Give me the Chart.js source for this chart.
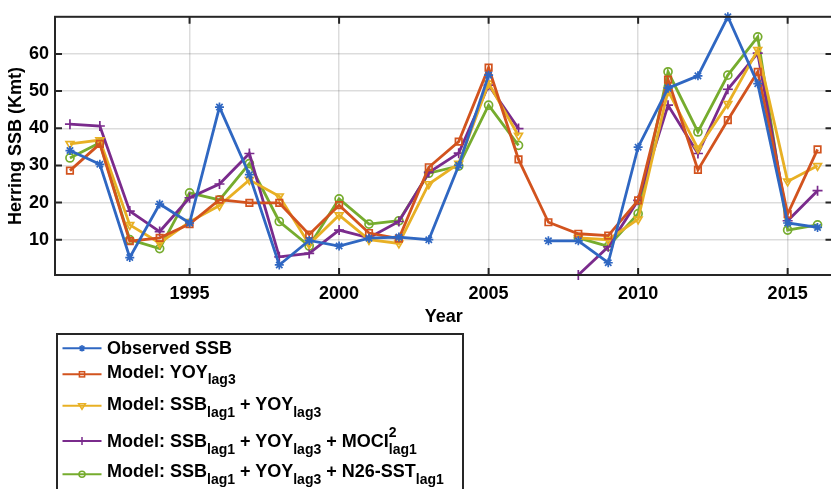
<!DOCTYPE html>
<html>
<head>
<meta charset="utf-8">
<title>Herring SSB</title>
<script src="https://cdn.jsdelivr.net/npm/chart.js@4.4.0/dist/chart.umd.min.js"></script>
<style>
    html, body { margin: 0; padding: 0; background: #fff; overflow: hidden; width: 831px; height: 489px; }
    body { position: relative; font-family: "Liberation Sans", Arial, Helvetica, sans-serif; font-weight: bold; color: #000; }
    #chartWrap { position: absolute; left: 0; top: 0; width: 840px; height: 330px; }
    #legendBox { position: absolute; left: 56px; top: 333px; width: 408px; height: 200px; border: 2px solid #262626; box-sizing: border-box; }
    .entry { position: absolute; left: 107px; font-size: 18px; line-height: 20px; white-space: nowrap; }
    .sub { font-size: 14px; position: relative; top: 7px; }
    .sup { font-size: 14px; position: relative; top: -10px; }
    #samples { position: absolute; left: 0; top: 0; }
</style>
</head>
<body>
<div id="chartWrap"><canvas id="herringChart" width="840" height="330"></canvas></div>
<div id="legendBox"></div>
<svg id="samples" width="120" height="489"></svg>
<div id="legendText"></div>

<script>
// ============================================
// DATOS
// ============================================

const years = [1991, 1992, 1993, 1994, 1995, 1996, 1997, 1998, 1999, 2000, 2001, 2002, 2003,
               2004, 2005, 2006, 2007, 2008, 2009, 2010, 2011, 2012, 2013, 2014, 2015, 2016];

const observedSSB = [34.0, 30.3, 5.2, 19.6, 14.5, 45.7, 27.5, 3.2, 9.8, 8.3, 10.4, 10.7, 10.0,
                     30.0, 54.3, null, 9.7, 9.7, 3.8, 34.9, 50.8, 54.1, 70.0, 52.0, 14.5, 13.3];

const modelYOY = [28.6, 35.8, 9.6, 10.5, 14.2, 20.8, 19.9, 19.9, 11.4, 19.3, 11.8, 10.3, 29.5,
                  36.4, 56.3, 31.6, 14.7, 11.6, 11.1, 20.6, 53.1, 28.8, 42.2, 55.2, 16.9, 34.3];

const modelSSBYOY = [35.8, 36.8, 14.0, 9.1, 14.8, 19.2, 26.1, 21.7, 8.8, 16.6, 10.0, 9.0, 25.0,
                     30.5, 52.1, 38.0, null, 10.5, 10.0, 15.5, 50.1, 34.5, 46.6, 61.1, 25.7, 29.9];

const modelMOCI = [41.1, 40.6, 17.7, 12.2, 21.3, 25.0, 33.2, 5.4, 6.3, 12.6, 10.5, 14.9, 28.1,
                   33.3, 51.6, 39.9, null, 0.5, 8.1, 20.6, 46.2, 33.2, 50.5, 60.2, 15.1, 23.2];

const modelN26SST = [32.0, 36.1, 10.0, 7.6, 22.6, 20.7, 30.5, 14.9, 8.3, 21.0, 14.2, 15.1, 27.9,
                     29.8, 46.2, 35.4, null, 10.5, 8.2, 17.0, 55.2, 39.0, 54.3, 64.6, 12.6, 14.0];

const xTicks = [1995, 2000, 2005, 2010, 2015];
const yTicks = [10, 20, 30, 40, 50, 60];

const seriesNames = [
    'Observed SSB',
    'Model: YOY<span class="sub" style="top:6px">lag3</span>',
    'Model: SSB<span class="sub">lag1</span> + YOY<span class="sub">lag3</span>',
    'Model: SSB<span class="sub">lag1</span> + YOY<span class="sub">lag3</span> + MOCI<span class="sup">2</span><span class="sub" style="margin-left:-7.8px">lag1</span>',
    'Model: SSB<span class="sub">lag1</span> + YOY<span class="sub">lag3</span> + N26-SST<span class="sub">lag1</span>'
];
const seriesValues = [observedSSB, modelYOY, modelSSBYOY, modelMOCI, modelN26SST];
const seriesColors = ['#2F67C2', '#D2531E', '#E8B024', '#7A2B8C', '#76AC2E'];
const seriesMarkers = ['star', 'rect', 'triangle', 'cross', 'circle'];

// ============================================
// ESTILO
// ============================================

const tickFont = { family: '"Liberation Sans", Arial, sans-serif', size: 18, weight: 'bold' };
const gridColor = 'rgba(38, 38, 38, 0.16)';
const markerRadius = { star: 4.5, rect: 4.6, triangle: 4.5, cross: 5, circle: 4 };

function toPoints(values) {
    return years.map((yr, i) => ({ x: yr, y: values[i] }));
}

// caja de ejes con marcas hacia dentro (estilo MATLAB)
const axisBox = {
    id: 'axisBox',
    afterDatasetsDraw(chart) {
        const { ctx, chartArea: a, scales: { x, y } } = chart;
        ctx.save();
        ctx.strokeStyle = '#262626';
        ctx.lineWidth = 2;
        ctx.beginPath();
        xTicks.forEach(v => {
            const px = x.getPixelForValue(v);
            ctx.moveTo(px, a.bottom); ctx.lineTo(px, a.bottom - 7);
            ctx.moveTo(px, a.top); ctx.lineTo(px, a.top + 7);
        });
        yTicks.forEach(v => {
            const py = y.getPixelForValue(v);
            ctx.moveTo(a.left, py); ctx.lineTo(a.left + 7, py);
            ctx.moveTo(a.right, py); ctx.lineTo(a.right - 7, py);
        });
        ctx.stroke();
        ctx.strokeRect(a.left, a.top, a.right - a.left, a.bottom - a.top);
        ctx.restore();
    }
};

new Chart(document.getElementById('herringChart'), {
    type: 'line',
    data: {
        datasets: seriesValues.map((vals, i) => ({
            label: 'series' + i,
            data: toPoints(vals),
            borderColor: seriesColors[i],
            borderWidth: 2.8,
            pointStyle: seriesMarkers[i],
            pointRotation: seriesMarkers[i] === 'triangle' ? 180 : 0,
            pointRadius: markerRadius[seriesMarkers[i]],
            pointBorderWidth: 1.7,
            pointBorderColor: seriesColors[i],
            pointBackgroundColor: 'rgba(0,0,0,0)',
            spanGaps: false,
            tension: 0,
            clip: false
        }))
    },
    options: {
        responsive: false,
        animation: false,
        layout: { padding: { top: 13, right: 7.5, left: 0, bottom: 0 } },
        plugins: {
            legend: { display: false },
            tooltip: { enabled: false }
        },
        scales: {
            x: {
                type: 'linear',
                min: 1990.5,
                max: 2016.5,
                afterBuildTicks: s => { s.ticks = xTicks.map(v => ({ value: v })); },
                afterFit: s => { s.height = 55; },
                ticks: { callback: v => String(v), font: tickFont, color: '#000', padding: 8, maxRotation: 0, autoSkip: false },
                grid: { color: gridColor, lineWidth: 1.5, drawTicks: false },
                border: { display: false },
                title: { display: true, text: 'Year', font: tickFont, color: '#000', padding: { top: 0, bottom: 2 } }
            },
            y: {
                min: 0.5,
                max: 70,
                afterBuildTicks: s => { s.ticks = yTicks.map(v => ({ value: v })); },
                afterFit: s => { s.width = 55; },
                ticks: { font: tickFont, color: '#000', padding: 6 },
                grid: { color: gridColor, lineWidth: 1.5, drawTicks: false },
                border: { display: false },
                title: { display: true, text: 'Herring SSB (Kmt)', font: tickFont, color: '#000', padding: { top: 5.5, bottom: 0 } }
            }
        }
    },
    plugins: [axisBox]
});

// ============================================
// LEYENDA (texto HTML con subíndices)
// ============================================

const entryBaselines = [354.3, 378.3, 410, 446.7, 477.3];
const sampleLineY = [348.3, 374.3, 405.7, 441, 474.3];

document.getElementById('legendText').innerHTML = seriesNames.map((name, i) =>
    `<div class="entry" style="top:${(entryBaselines[i] - 16.2).toFixed(1)}px">${name}</div>`
).join('');

function markerSvg(kind, cx, cy, color) {
    const r = 3.2;
    const st = `stroke="${color}" stroke-width="1.5" fill="none"`;
    if (kind === 'star') {
        const d = r * 0.72;
        return `<path d="M${cx - r} ${cy}H${cx + r}M${cx} ${cy - r}V${cy + r}M${cx - d} ${cy - d}L${cx + d} ${cy + d}M${cx - d} ${cy + d}L${cx + d} ${cy - d}" ${st}/>`;
    }
    if (kind === 'rect') return `<rect x="${cx - 2.6}" y="${cy - 2.6}" width="5.2" height="5.2" ${st}/>`;
    if (kind === 'triangle') return `<path d="M${cx - 3.4} ${cy - 2}L${cx + 3.4} ${cy - 2}L${cx} ${cy + 3.5}Z" ${st}/>`;
    if (kind === 'cross') return `<path d="M${cx - 4} ${cy}H${cx + 4}M${cx} ${cy - 4}V${cy + 4}" ${st}/>`;
    return `<circle cx="${cx}" cy="${cy}" r="3" ${st}/>`;
}

document.getElementById('samples').innerHTML = seriesColors.map((c, i) => {
    const y = sampleLineY[i];
    return `<line x1="62.5" y1="${y}" x2="101.5" y2="${y}" stroke="${c}" stroke-width="2"/>` +
        markerSvg(seriesMarkers[i], 82, y, c);
}).join('');
</script>
</body>
</html>
